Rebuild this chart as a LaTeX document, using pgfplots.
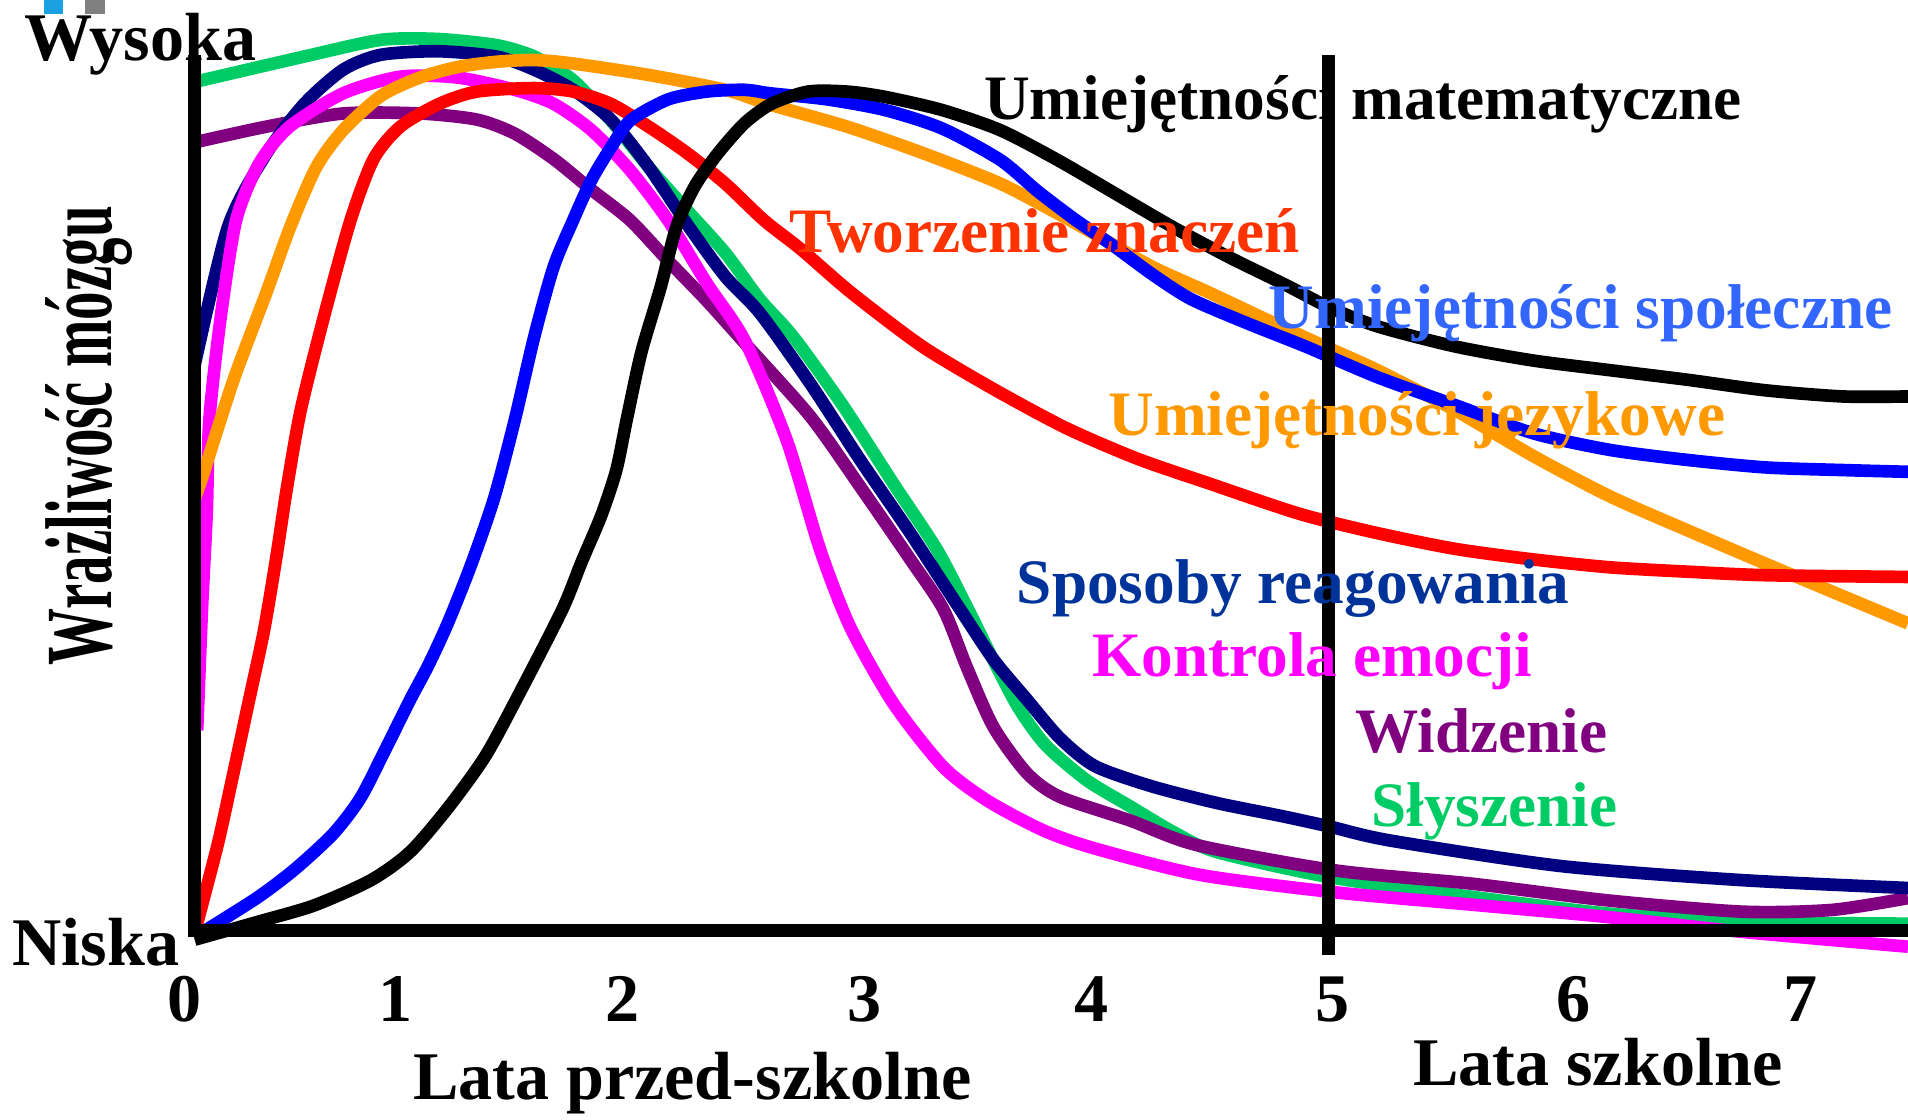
\documentclass[border=0pt]{standalone}
\usepackage{pgfplots}
\pgfplotsset{compat=1.18}
\usepackage{fontspec}
\setmainfont{Liberation Serif}
\definecolor{cgreen}{HTML}{00CC66}
\definecolor{cnavy}{HTML}{000080}
\definecolor{cmag}{HTML}{FF00FF}
\definecolor{cpurp}{HTML}{800080}
\definecolor{corange}{HTML}{FF9900}
\definecolor{cred}{HTML}{FF0000}
\definecolor{cblue}{HTML}{0000FF}
\definecolor{lred}{HTML}{FF3300}
\definecolor{lblue}{HTML}{3366FF}
\definecolor{lnavy}{HTML}{003399}
\definecolor{sqblue}{HTML}{1BA1E2}
\definecolor{sqgray}{HTML}{808080}
\begin{document}
\begin{tikzpicture}
\begin{axis}[
  scale only axis, width=352pt, height=191.25pt,
  xmin=0, xmax=7.489, ymin=0, ymax=10.625,
  hide axis, clip=false,
  every axis plot/.append style={line width=2.6pt, smooth, tension=0.45, mark=none, line join=round},
]
\coordinate (BL) at (axis cs:-0.851,-2.153);
\coordinate (TR) at (axis cs:7.489,10.625);
% small squares
\fill[sqblue] (axis cs:-0.660,10.47) rectangle (axis cs:-0.574,10.625);
\fill[sqgray] (axis cs:-0.479,10.47) rectangle (axis cs:-0.394,10.625);

% Slyszenie (green)
\addplot[cgreen] coordinates {(0,9.69) (0.479,9.98) (0.814,10.17) (1.064,10.18) (1.319,10.11) (1.484,9.98) (1.654,9.71) (1.819,9.25) (1.984,8.72) (2.154,8.22) (2.319,7.74) (2.473,7.20) (2.617,6.78) (2.835,5.99) (3.053,5.11) (3.245,4.35) (3.375,3.70) (3.489,3.10) (3.600,2.55) (3.720,2.12) (3.899,1.72) (4.090,1.42) (4.277,1.13) (4.468,0.90) (4.968,0.61) (5.58,0.39) (6.17,0.20) (6.76,0.105) (7.489,0.083)};
% Widzenie (purple)
\addplot[cpurp] coordinates {(0,9.0) (0.314,9.18) (0.649,9.33) (0.984,9.33) (1.234,9.26) (1.399,9.10) (1.569,8.81) (1.734,8.46) (1.904,8.11) (2.069,7.65) (2.239,7.19) (2.404,6.71) (2.690,5.875) (2.909,5.07) (3.128,4.24) (3.273,3.67) (3.375,3.01) (3.491,2.33) (3.638,1.80) (3.782,1.53) (4.089,1.26) (4.380,0.98) (4.987,0.69) (5.580,0.54) (6.170,0.35) (6.763,0.22) (7.157,0.24) (7.489,0.375)};
% Sposoby reagowania (navy)
\addplot[cnavy] coordinates {(0,6.46) (0.146,8.04) (0.314,8.875) (0.479,9.44) (0.649,9.83) (0.814,10.0) (1.064,10.04) (1.319,9.98) (1.484,9.83) (1.654,9.60) (1.819,9.26) (1.984,8.72) (2.154,8.06) (2.319,7.47) (2.471,7.05) (2.690,6.25) (2.909,5.375) (3.128,4.54) (3.346,3.67) (3.491,3.10) (3.638,2.64) (3.782,2.20) (3.936,1.88) (4.184,1.65) (4.468,1.46) (4.753,1.31) (4.963,1.19) (5.229,1.03) (5.973,0.74) (6.761,0.58) (7.489,0.49)};
% Kontrola emocji (magenta)
\addplot[cmag] coordinates {(0.011,2.29) (0.032,3.68) (0.053,4.79) (0.064,5.83) (0.112,6.97) (0.181,8.11) (0.282,8.76) (0.415,9.18) (0.649,9.56) (0.899,9.75) (1.149,9.74) (1.399,9.60) (1.569,9.44) (1.734,9.14) (1.904,8.68) (2.069,8.11) (2.239,7.39) (2.404,6.74) (2.588,5.60) (2.734,4.35) (2.865,3.47) (3.053,2.60) (3.271,1.875) (3.463,1.49) (3.707,1.15) (3.936,0.94) (4.394,0.64) (4.987,0.44) (5.580,0.30) (6.170,0.16) (6.761,-0.01) (7.489,-0.18)};
% Umiejetnosci jezykowe (orange)
\addplot[corange] coordinates {(0,4.93) (0.037,5.21) (0.170,6.29) (0.314,7.29) (0.420,8.05) (0.532,8.72) (0.649,9.14) (0.814,9.53) (0.984,9.74) (1.149,9.86) (1.319,9.92) (1.484,9.94) (1.654,9.90) (1.984,9.77) (2.319,9.60) (2.516,9.43) (2.851,9.18) (3.186,8.875) (3.521,8.53) (3.771,8.19) (3.936,7.95) (4.186,7.58) (4.439,7.28) (4.691,6.97) (4.941,6.67) (5.170,6.40) (5.511,5.94) (5.851,5.42) (6.186,4.96) (6.527,4.57) (6.867,4.19) (7.205,3.82) (7.489,3.51)};
% Tworzenie znaczen (red)
\addplot[cred] coordinates {(0.005,0.03) (0.101,0.99) (0.170,1.81) (0.237,2.625) (0.303,3.43) (0.356,4.25) (0.404,5.07) (0.464,5.95) (0.564,7.00) (0.681,8.11) (0.782,8.81) (0.899,9.18) (1.069,9.44) (1.234,9.58) (1.484,9.62) (1.654,9.58) (1.819,9.44) (1.984,9.18) (2.154,8.875) (2.319,8.53) (2.489,8.11) (2.650,7.78) (2.872,7.28) (3.181,6.67) (3.495,6.18) (3.809,5.74) (4.120,5.39) (4.431,5.11) (4.830,4.76) (5.170,4.54) (5.511,4.36) (5.851,4.24) (6.186,4.15) (6.527,4.10) (6.867,4.06) (7.489,4.04)};
% Umiejetnosci spoleczne (blue)
\addplot[cblue] coordinates {(0.043,0) (0.271,0.375) (0.436,0.70) (0.606,1.11) (0.723,1.51) (0.822,2.01) (0.939,2.625) (1.021,3.03) (1.106,3.51) (1.207,4.17) (1.309,4.94) (1.399,5.83) (1.484,6.78) (1.569,7.58) (1.654,8.11) (1.734,8.57) (1.819,8.94) (1.904,9.25) (2.069,9.49) (2.239,9.58) (2.404,9.60) (2.516,9.56) (2.766,9.49) (3.016,9.37) (3.266,9.16) (3.521,8.80) (3.686,8.44) (3.853,8.11) (4.021,7.81) (4.188,7.49) (4.356,7.21) (4.606,6.93) (4.856,6.67) (5.170,6.32) (5.511,6.00) (5.851,5.68) (6.186,5.49) (6.527,5.375) (6.867,5.29) (7.205,5.26) (7.489,5.24)};
% Umiejetnosci matematyczne (black)
\addplot[black] coordinates {(0,-0.10) (0.271,0.10) (0.521,0.29) (0.771,0.58) (0.941,0.90) (1.106,1.40) (1.274,2.01) (1.441,2.82) (1.609,3.68) (1.691,4.21) (1.777,4.74) (1.843,5.26) (1.888,5.83) (1.952,6.60) (2.037,7.35) (2.106,8.04) (2.186,8.50) (2.287,8.875) (2.404,9.22) (2.521,9.44) (2.681,9.58) (2.851,9.58) (3.016,9.52) (3.266,9.37) (3.521,9.14) (3.771,8.80) (4.021,8.42) (4.271,8.04) (4.521,7.69) (4.771,7.37) (4.957,7.12) (5.170,6.90) (5.511,6.67) (5.851,6.51) (6.186,6.40) (6.527,6.29) (6.867,6.17) (7.205,6.10) (7.489,6.10)};

% axes
\draw[line width=2.7pt] (axis cs:0,-0.07) -- (axis cs:0,10);
\draw[line width=2.7pt] (axis cs:-0.03,0) -- (axis cs:7.489,0);
\draw[line width=2.7pt] (axis cs:4.957,-0.28) -- (axis cs:4.957,10);

% axis texts
\begin{scope}[every node/.style={font=\fontsize{14}{16}\selectfont\bfseries, inner sep=0pt}]
\node[anchor=base west] at (axis cs:-0.750,9.94) {Wysoka};
\node[anchor=base west] at (axis cs:-0.800,-0.40) {Niska};
\node[anchor=base] at (axis cs:-0.043,-1.03) {0};
\node[anchor=base] at (axis cs:0.878,-1.03) {1};
\node[anchor=base] at (axis cs:1.872,-1.03) {2};
\node[anchor=base] at (axis cs:2.926,-1.03) {3};
\node[anchor=base] at (axis cs:3.920,-1.03) {4};
\node[anchor=base] at (axis cs:4.973,-1.03) {5};
\node[anchor=base] at (axis cs:6.027,-1.03) {6};
\node[anchor=base] at (axis cs:7.021,-1.03) {7};
\node[anchor=base west] at (axis cs:0.950,-1.92) {Lata przed-szkolne};
\node[anchor=base west] at (axis cs:5.322,-1.76) {Lata szkolne};
\end{scope}
\node[rotate=90, anchor=base, inner sep=0pt] at (axis cs:-0.363,5.65) {\scalebox{0.6}[1]{\fontsize{19.5}{22}\selectfont\bfseries Wrażliwość mózgu}};

% curve labels
\begin{scope}[every node/.style={font=\fontsize{13}{15}\selectfont\bfseries, inner sep=0pt, anchor=base west}]
\node[text=black] at (axis cs:3.447,9.26) {Umiejętności matematyczne};
\node[text=lred] at (axis cs:2.596,7.74) {Tworzenie znaczeń};
\node[text=lblue] at (axis cs:4.69,6.875) {Umiejętności społeczne};
\node[text=corange] at (axis cs:3.99,5.65) {Umiejętności językowe};
\node[text=lnavy] at (axis cs:3.59,3.74) {Sposoby reagowania};
\node[text=cmag] at (axis cs:3.92,2.90) {Kontrola emocji};
\node[text=cpurp] at (axis cs:5.07,2.04) {Widzenie};
\node[text=cgreen] at (axis cs:5.14,1.19) {Słyszenie};
\end{scope}
\end{axis}
\pgfresetboundingbox
\path[use as bounding box] (BL) rectangle (TR);
\end{tikzpicture}
\end{document}
